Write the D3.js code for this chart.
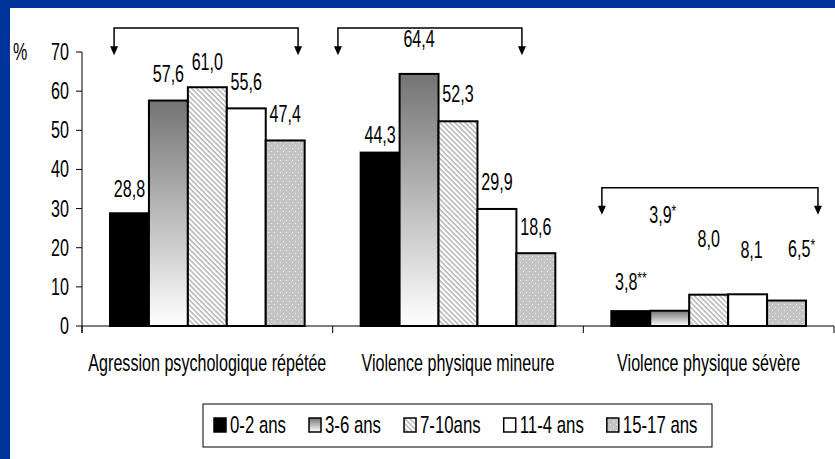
<!DOCTYPE html>
<html>
<head>
<meta charset="utf-8">
<script src="https://cdn.jsdelivr.net/npm/d3@7"></script>
<style>
  body { margin: 0; background: #003399; }
  svg { display: block; }
  text { font-family: "Liberation Sans", Arial, sans-serif; fill: #000; }
</style>
</head>
<body>
<script>
// données
const categories = ['Agression psychologique répétée', 'Violence physique mineure', 'Violence physique sévère'];
const ages = ['0-2 ans', '3-6 ans', '7-10ans', '11-4 ans', '15-17 ans'];
const psycho = [28.8, 57.6, 61.0, 55.6, 47.4];
const mineure = [44.3, 64.4, 52.3, 29.9, 18.6];
const severe = [3.8, 3.9, 8.0, 8.1, 6.5];
const severeStars = ['**', '*', '', '', '*'];
// where each value label sits (in % units) and small x shift (px)
const labelAt = [[33.0, 62.3, 65.4, 60.3, 52.1], [46.8, 71.3, 57.2, 34.7, 23.2], [9.2, 26.3, 20.2, 17.4, 17.6]];
const labelDx = [[0, 0, 0, 0, 0], [0, 0, 0, 0, 0], [0, -7, 0, 4, 15]];
const yTicks = [0, 10, 20, 30, 40, 50, 60, 70];
// brackets: [x start, x end] in category units, [top, tip] in % units
const brackets = [[0.128, 0.862, 76.1, 69.2], [1.021, 1.755, 76.1, 69.2], [2.074, 2.936, 35.3, 28.4]];

const width = 835, height = 459;
const SX = 0.7;
const svg = d3.select('body').append('svg').attr('width', width).attr('height', height);

const defs = svg.append('defs');
const grad = defs.append('linearGradient').attr('id', 'grad').attr('x1', 0).attr('y1', 0).attr('x2', 0).attr('y2', 1);
grad.append('stop').attr('offset', '0%').attr('stop-color', '#747474');
grad.append('stop').attr('offset', '100%').attr('stop-color', '#ffffff');

const hatch = defs.append('pattern').attr('id', 'hatch').attr('patternUnits', 'userSpaceOnUse')
  .attr('width', 3.6).attr('height', 3.6).attr('patternTransform', 'rotate(-45)');
hatch.append('rect').attr('width', 3.6).attr('height', 3.6).attr('fill', '#fff');
hatch.append('line').attr('x1', 1).attr('y1', 0).attr('x2', 1).attr('y2', 3.6).attr('stroke', '#9a9a9a').attr('stroke-width', 1.1);

const dots = defs.append('pattern').attr('id', 'dots').attr('patternUnits', 'userSpaceOnUse')
  .attr('width', 6).attr('height', 6);
dots.append('rect').attr('width', 6).attr('height', 6).attr('fill', '#c4c4c4');
dots.append('rect').attr('x', 1).attr('y', 1).attr('width', 1).attr('height', 1).attr('fill', '#f2f2f2');
dots.append('rect').attr('x', 4).attr('y', 4).attr('width', 1).attr('height', 1).attr('fill', '#f2f2f2');

const fills = ['#000', 'url(#grad)', 'url(#hatch)', '#fff', 'url(#dots)'];

// white slide area
svg.append('rect').attr('x', 10).attr('y', 8).attr('width', width - 10).attr('height', height - 8).attr('fill', '#fff');

const x = d3.scaleBand().domain(categories).range([82, 834]);
const xLin = d3.scaleLinear().domain([0, 3]).range([82, 834]);
const xSub = d3.scaleBand().domain(ages).range([28, x.bandwidth() - 28]);
const y = d3.scaleLinear().domain([0, 70]).range([326, 52]);

function label(g, tx, ty, str, size, anchor) {
  return g.append('text')
    .attr('transform', `translate(${tx},${ty}) scale(${SX},1)`)
    .attr('text-anchor', anchor || 'middle')
    .style('font-size', size + 'px')
    .text(str);
}

const g = svg.append('g');

// y axis
g.append('line').attr('x1', 82).attr('x2', 82).attr('y1', y(70)).attr('y2', 333).attr('stroke', '#000');
yTicks.forEach(t => {
  g.append('line').attr('x1', 76).attr('x2', 82).attr('y1', y(t)).attr('y2', y(t)).attr('stroke', '#000');
  label(g, 69, y(t) + 8, t, 23, 'end');
});
label(g, 13, y(70) + 8, '%', 23, 'start');

// x axis
g.append('line').attr('x1', 82).attr('x2', 834).attr('y1', y(0)).attr('y2', y(0)).attr('stroke', '#000');
[0, 1, 2, 3].forEach(i => {
  g.append('line').attr('x1', xLin(i)).attr('x2', xLin(i)).attr('y1', y(0)).attr('y2', 333).attr('stroke', '#000');
});
categories.forEach(c => label(g, x(c) + x.bandwidth() / 2, 371, c, 23));

// bars
const series = [psycho, mineure, severe];
const rows = [];
categories.forEach((c, ci) => ages.forEach((a, ai) => {
  const v = series[ci][ai];
  const txt = d3.format('.1f')(v).replace('.', ',');
  rows.push({ c, ci, a, ai, v, txt, stars: ci === 2 ? severeStars[ai] : '' });
}));

g.selectAll('.bar').data(rows).enter().append('rect')
  .attr('class', 'bar')
  .attr('x', d => x(d.c) + xSub(d.a))
  .attr('y', d => y(d.v))
  .attr('width', xSub.bandwidth())
  .attr('height', d => y(0) - y(d.v))
  .attr('fill', d => fills[d.ai])
  .attr('stroke', '#000')
  .attr('stroke-width', 2);

rows.forEach(d => {
  const t = label(g, x(d.c) + xSub(d.a) + xSub.bandwidth() / 2 + labelDx[d.ci][d.ai], y(labelAt[d.ci][d.ai]), d.txt, 23);
  if (d.stars) {
    t.append('tspan').attr('dy', -6).style('font-size', '17px').text(d.stars);
  }
});

// brackets with arrows
brackets.forEach(b => {
  const x0 = xLin(b[0]), x1 = xLin(b[1]), top = y(b[2]), tip = y(b[3]);
  g.append('path')
    .attr('d', `M${x0},${tip - 8}V${top}H${x1}V${tip - 8}`)
    .attr('fill', 'none').attr('stroke', '#000').attr('stroke-width', 1.5);
  [x0, x1].forEach(xx => {
    g.append('path').attr('d', `M${xx - 4},${tip - 9}L${xx + 4},${tip - 9}L${xx},${tip}Z`).attr('fill', '#000');
  });
});

// legend
const leg = svg.append('g');
leg.append('rect').attr('x', 203).attr('y', 404).attr('width', 509).attr('height', 43)
  .attr('fill', '#fff').attr('stroke', '#000').attr('stroke-width', 1);
let lx = 214;
ages.forEach((a, i) => {
  leg.append('rect').attr('x', lx).attr('y', 418).attr('width', 12).attr('height', 14)
    .attr('fill', fills[i]).attr('stroke', '#000').attr('stroke-width', 1.5);
  const t = label(leg, lx + 16, 433, a, 24, 'start');
  lx += 16 + t.node().getComputedTextLength() * SX + 23;
});
</script>
</body>
</html>
